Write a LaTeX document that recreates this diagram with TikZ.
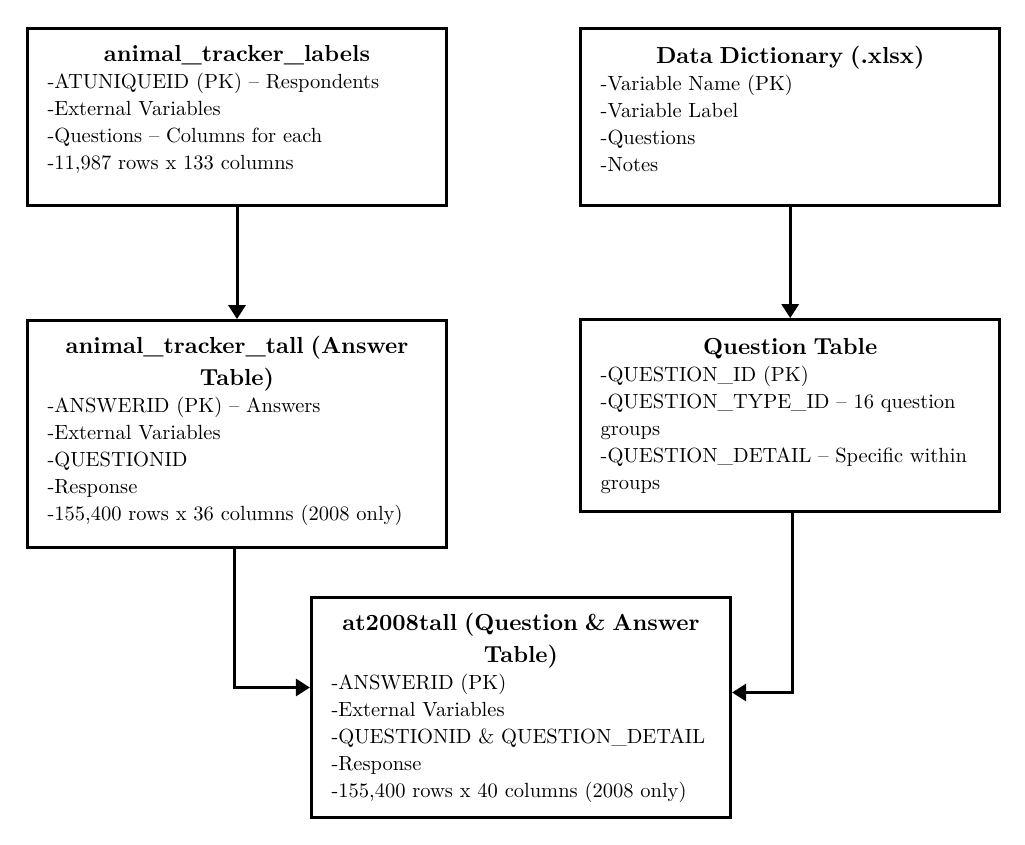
\documentclass[tikz,border=0pt]{standalone}
\usepackage{fontspec}
\setmainfont{lmroman10-regular}[Extension=.otf, BoldFont=lmroman10-bold]
\usetikzlibrary{positioning, arrows.meta}

\newcommand{\tabletitle}[1]{{\centering\fontsize{23.2}{32}\selectfont\bfseries #1\par}}

\begin{document}
\begin{tikzpicture}[
  x=1pt, y=1pt,
  node distance=112pt and 131pt,
  tablebox/.style={draw, rectangle, line width=3.2pt, align=left, text width=379pt, inner xsep=20pt, minimum width=419pt, font=\fontsize{20.5}{27}\selectfont},
  arrow/.style={-{Triangle[length=14pt, width=17pt]}, line width=3pt}
]
\useasboundingbox (0,0) rectangle (1025,-845);

% Source tables
\node[tablebox, minimum height=177pt] (labels) at (237,-117) {\tabletitle{animal\_tracker\_labels}
  -ATUNIQUEID (PK) -- Respondents\\-External Variables\\-Questions -- Columns for each\\-11,987 rows x 133 columns\par\kern16pt};
\node[tablebox, minimum height=177pt, right=of labels] (dict) {\tabletitle{Data Dictionary (.xlsx)}
  -Variable Name (PK)\\-Variable Label\\-Questions\\-Notes\par\kern16pt};

% Derived tables
\node[tablebox, minimum height=227pt, below=of labels] (tall) {\tabletitle{animal\_tracker\_tall (Answer\\Table)}
  -ANSWERID (PK) -- Answers\\-External Variables\\-QUESTIONID\\-Response\\-155,400 rows x 36 columns (2008 only)\par\kern6pt};
\node[tablebox, minimum height=192pt, below=111pt of dict] (qtable) {\tabletitle{Question Table}
  -QUESTION\_ID (PK)\\-QUESTION\_TYPE\_ID -- 16 question\\groups\\-QUESTION\_DETAIL -- Specific within\\groups};

% Joined table
\node[tablebox, minimum height=220pt] (qa) at (521,-707.5) {\tabletitle{at2008tall (Question \& Answer\\Table)}
  -ANSWERID (PK)\\-External Variables\\-QUESTIONID \& QUESTION\_DETAIL\\-Response\\-155,400 rows x 40 columns (2008 only)};

% Arrows
\draw[arrow] (labels.south) -- (tall.north);
\draw[arrow] (dict.south) -- (qtable.north);

\draw[arrow] ([xshift=-3pt]tall.south) |- ([yshift=20pt]qa.west);
\draw[arrow] ([xshift=2pt]qtable.south) |- ([yshift=15pt]qa.east);

\end{tikzpicture}
\end{document}
